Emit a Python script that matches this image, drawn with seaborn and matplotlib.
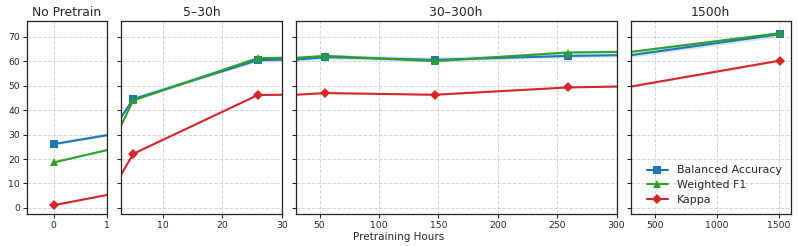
import numpy as np
import pandas as pd
import matplotlib
matplotlib.use("Agg")
from matplotlib import pyplot as plt
import seaborn as sns

# pretraining hours and scores
hours = [0, 5, 26, 55, 147, 259, 1510]
balanced_acc = [26.1, 44.5, 60.5, 61.7, 60.6, 62.2, 71.1]
weighted_f1 = [18.6, 44.0, 61.3, 62.2, 60.1, 63.6, 71.5]
kappa = [1.1, 22.1, 46.2, 47.0, 46.3, 49.3, 60.3]
# small spread shown as shaded band
balanced_acc_std = [0.6, 0.8, 0.9, 1.0, 1.0, 0.9, 1.1]
weighted_f1_std = [0.4, 0.5, 0.5, 0.5, 0.5, 0.5, 0.6]
kappa_std = [0.3, 0.4, 0.4, 0.4, 0.4, 0.4, 0.5]

panel_titles = ["No Pretrain", "5\u201330h", "30\u2013300h", "1500h"]
panel_xlims = [(-0.5, 1), (3, 30), (30, 300), (300, 1600)]
panel_xticks = [[0, 1], [10, 20, 30], [50, 100, 150, 200, 250, 300], [500, 1000, 1500]]

metrics = ["Balanced Accuracy", "Weighted F1", "Kappa"]
colors = {"Balanced Accuracy": "#1f77b4", "Weighted F1": "#2ca02c", "Kappa": "#d62728"}
markers = {"Balanced Accuracy": "s", "Weighted F1": "^", "Kappa": "D"}

df = pd.DataFrame({
    "hours": hours * 3,
    "score": balanced_acc + weighted_f1 + kappa,
    "std": balanced_acc_std + weighted_f1_std + kappa_std,
    "metric": np.repeat(metrics, len(hours)),
})

sns.set_style("ticks")
plt.rcParams["font.family"] = ["DejaVu Sans"]

fig, axes = plt.subplots(1, 4, figsize=(7.98, 2.46), dpi=100, sharey=True,
                         gridspec_kw={"width_ratios": [1, 2, 4, 2]})
fig.subplots_adjust(left=27/798, right=791/798, top=1-21/246, bottom=1-214/246, wspace=0.078)

for i, ax in enumerate(axes):
    for m in metrics:
        sub = df[df.metric == m]
        ax.fill_between(sub.hours, sub.score - sub["std"], sub.score + sub["std"],
                        color=colors[m], alpha=0.18, linewidth=0)
    sns.lineplot(data=df, x="hours", y="score", hue="metric", style="metric",
                 palette=colors, markers=markers, dashes=False, linewidth=1.5,
                 markersize=5.3, markeredgewidth=0, ax=ax, legend=(i == 3))
    ax.set_xlim(*panel_xlims[i])
    ax.set_xticks(panel_xticks[i])
    ax.set_ylim(-2.5, 76.5)
    ax.set_yticks(range(0, 71, 10))
    ax.set_title(panel_titles[i], fontsize=8.9, pad=3.5)
    ax.set_xlabel("")
    ax.set_ylabel("")
    ax.grid(True, linestyle="--", color="#cccccc", alpha=0.8, linewidth=0.7)
    ax.tick_params(labelsize=6.7, length=3, width=0.8, pad=2)
    for s in ax.spines.values():
        s.set_color("#222222")
        s.set_linewidth(0.9)
    if i > 0:
        ax.tick_params(labelleft=False)

leg = axes[3].legend(loc="lower right", frameon=False, fontsize=7.9, handlelength=2.0,
                     borderaxespad=0.4, labelspacing=0.45)

fig.text(0.5, 1 - 237/246, "Pretraining Hours", ha="center", va="center", fontsize=7.5)

fig.savefig("out.png", dpi=100)
